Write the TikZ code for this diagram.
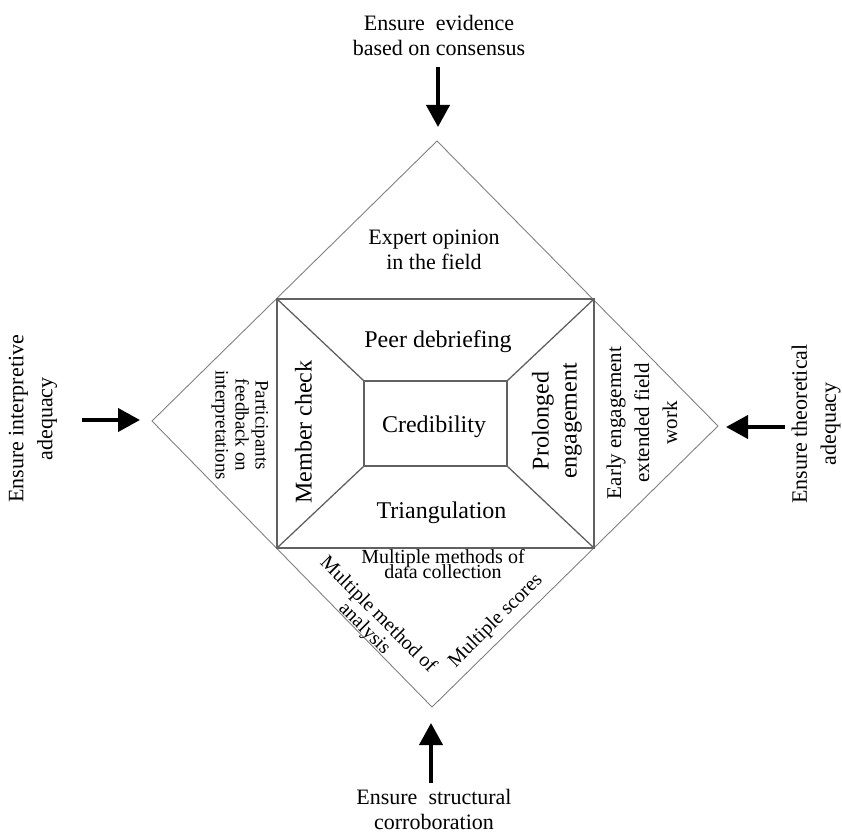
\documentclass[tikz,border=0pt]{standalone}
\usepackage{fontspec}
\setmainfont{Liberation Serif}
\usetikzlibrary{arrows.meta}
\begin{document}
\begin{tikzpicture}[x=1pt,y=-1pt,
  frame/.style={draw=black!50,line width=0.9pt},
  box/.style={draw=black!62,line width=1.3pt},
  txt/.style={inner sep=0pt,align=center},
  big/.style={txt,font=\fontsize{24}{28}\selectfont},
  mid/.style={txt,font=\fontsize{22}{25}\selectfont},
  small/.style={txt,font=\fontsize{20}{18}\selectfont},
  tiny/.style={txt,font=\fontsize{19}{20}\selectfont},
  push/.style={-{Triangle[width=23pt,length=22pt]},line width=4pt}
]
\useasboundingbox (0,0) rectangle (842,834);

% outer diamond
\coordinate (T) at (437,141);
\coordinate (L) at (152,421);
\coordinate (R) at (718,426);
\coordinate (B) at (432,707);
\draw[frame] (T) -- (R) -- (B) -- (L) -- cycle;

% outer and inner rectangles
\coordinate (o1) at (277,299);
\coordinate (o2) at (594,299);
\coordinate (o3) at (594,548);
\coordinate (o4) at (277,548);
\coordinate (i1) at (364,381);
\coordinate (i2) at (507,381);
\coordinate (i3) at (507,466);
\coordinate (i4) at (364,466);
\draw[box] (o1) -- (o2) -- (o3) -- (o4) -- cycle;
\draw[box] (i1) -- (i2) -- (i3) -- (i4) -- cycle;
\draw[box] (o1) -- (i1);
\draw[box] (o2) -- (i2);
\draw[box] (o3) -- (i3);
\draw[box] (o4) -- (i4);

% inner labels
\node[big,anchor=base] (cred) at (434,432) {Credibility};
\node[big,anchor=base] (peer) at (438,347) {Peer debriefing};
\node[big,anchor=base] (tri) at (441.5,518) {Triangulation};
\node[big,rotate=90] (member) at (303.5,432) {Member check};
\node[big,rotate=90] (prol) at (557,421) {Prolonged\\engagement};

% diamond triangles
\node[mid] (expert) at (434,250) {Expert opinion\\in the field};
\node[tiny,rotate=-90] (part) at (240,425) {Participants\\feedback on\\interpretations};
\node[txt,font=\fontsize{21}{28}\selectfont,rotate=90] (early) at (642,423) {Early engagement\\extended field\\work};
\node[small,anchor=base] (mm1) at (443,563) {Multiple methods of};
\node[small,anchor=base] (mm2) at (443,578) {data collection};
\node[small,rotate=-45] (analysis) at (371,622) {Multiple method of\\analysis};
\node[small,rotate=45] (scores) at (496,621) {Multiple scores};

% outside labels
\node[mid] (evid) at (439,35) {Ensure~ evidence\\based on consensus};
\node[mid] (struct) at (434,809) {Ensure~ structural\\corroboration};
\node[txt,font=\fontsize{22}{29}\selectfont,rotate=90] (interp) at (33,419) {Ensure interpretive\\adequacy};
\node[txt,font=\fontsize{22}{29}\selectfont,rotate=90] (theor) at (816,424) {Ensure theoretical\\adequacy};

% arrows
\coordinate (aT0) at (438,67);  \coordinate (aT1) at (438,127);
\coordinate (aB0) at (431,783); \coordinate (aB1) at (431,723);
\coordinate (aL0) at (82,420);  \coordinate (aL1) at (140,420);
\coordinate (aR0) at (785,427); \coordinate (aR1) at (726,427);
\draw[push] (aT0) -- (aT1);
\draw[push] (aB0) -- (aB1);
\draw[push] (aL0) -- (aL1);
\draw[push] (aR0) -- (aR1);
\end{tikzpicture}
\end{document}
